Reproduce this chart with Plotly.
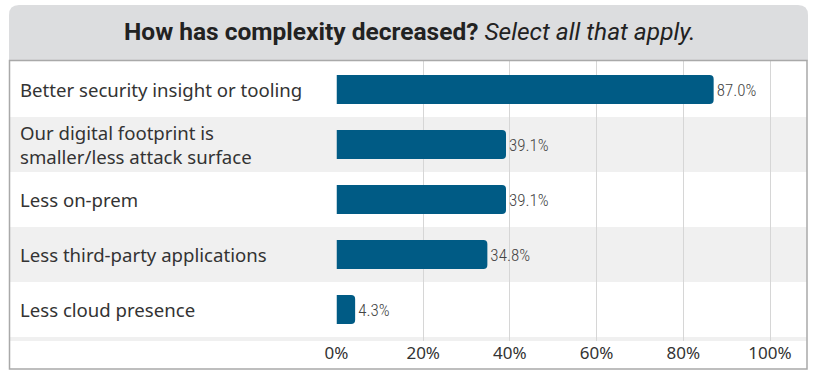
import plotly.graph_objects as go

# Survey answers (share of respondents, %)
categories = [
    "Better security insight or tooling",
    "Our digital footprint is<br>smaller/less attack surface",
    "Less on-prem",
    "Less third-party applications",
    "Less cloud presence",
]
values = [87.0, 39.1, 39.1, 34.8, 4.3]
tick_values = [0, 20, 40, 60, 80, 100]
tick_labels = ["0%", "20%", "40%", "60%", "80%", "100%"]

W, H = 814, 372


def fx(px):
    return px / W


def fy(py):
    return 1 - py / H


BAR = "#005b85"
BAND = "#f0f0f0"
TITLE_FONT = "Roboto, Noto Sans, sans-serif"
LABEL_FONT = "Noto Sans, Roboto, sans-serif"
VALUE_FONT = ("Liberation Sans Narrow, Roboto Condensed, Open Sans Condensed, "
              "DejaVu Sans Condensed, Roboto, sans-serif")

fig = go.Figure(
    go.Bar(
        x=values,
        y=categories,
        orientation="h",
        marker=dict(color=BAR, line=dict(width=0)),
        width=0.53,
        text=[f"{v:.1f}%" for v in values],
        textposition="outside",
        textfont=dict(family=VALUE_FONT, size=17, color="#444444", weight=300),
        constraintext="none",
        cliponaxis=False,
        hoverinfo="skip",
    )
)

shapes = []

# Grey header with rounded top corners
r = 10
x0, x1, y0, y1 = 9, 808, 5, 61
path = (
    f"M {fx(x0)},{fy(y1)} L {fx(x0)},{fy(y0 + r)} "
    f"Q {fx(x0)},{fy(y0)} {fx(x0 + r)},{fy(y0)} "
    f"L {fx(x1 - r)},{fy(y0)} Q {fx(x1)},{fy(y0)} {fx(x1)},{fy(y0 + r)} "
    f"L {fx(x1)},{fy(y1)} Z"
)
shapes.append(dict(type="path", xref="paper", yref="paper", path=path,
                   fillcolor="#dcdddf", line=dict(width=0), layer="below"))

# Alternating row bands across the whole panel
for i in range(len(categories)):
    if i % 2 == 1:
        shapes.append(dict(type="rect", xref="paper", yref="y",
                           x0=fx(9.5), x1=fx(807), y0=i - 0.5, y1=i + 0.5,
                           fillcolor=BAND, line=dict(width=0), layer="below"))
# thin strip closing the last row
shapes.append(dict(type="rect", xref="paper", yref="y",
                   x0=fx(9.5), x1=fx(807), y0=len(categories) - 0.5,
                   y1=len(categories) - 0.5 + 4 / 55,
                   fillcolor=BAND, line=dict(width=0), layer="below"))

# Panel border
shapes.append(dict(type="rect", xref="paper", yref="paper",
                   x0=fx(9.5), x1=fx(807), y0=fy(369), y1=fy(60.5),
                   fillcolor="rgba(0,0,0,0)",
                   line=dict(color="#a9a9a9", width=1.5), layer="above"))

annotations = [
    dict(
        text="<b>How has complexity decreased?</b> <i>Select all that apply.</i>",
        x=fx(409.5), y=fy(31), xref="paper", yref="paper",
        xanchor="center", yanchor="middle", showarrow=False,
        font=dict(family=TITLE_FONT, size=24.5, color="#222222"),
    )
]
for c in categories:
    annotations.append(dict(
        text=c, x=fx(17.5), y=c, xref="paper", yref="y",
        xanchor="left", yanchor="middle", align="left", showarrow=False,
        font=dict(family=LABEL_FONT, size=18.6, color="#333333"),
    ))

fig.update_layout(
    template="none",
    width=W, height=H,
    margin=dict(l=0, r=0, t=0, b=0, pad=0, autoexpand=False),
    paper_bgcolor="white",
    plot_bgcolor="rgba(0,0,0,0)",
    barcornerradius=4,
    showlegend=False,
    shapes=shapes,
    annotations=annotations,
    xaxis=dict(
        domain=[fx(336.5), fx(807)],
        range=[0, (807 - 336.5) / 4.335],
        tickvals=tick_values, ticktext=tick_labels,
        showgrid=True, gridcolor="#d6d6d6", gridwidth=1,
        zeroline=False, showline=False, ticks="", automargin=False,
        tickfont=dict(family=LABEL_FONT, size=17, color="#333333"),
        fixedrange=True,
    ),
    yaxis=dict(
        domain=[fy(341), fy(61)],
        categoryorder="array", categoryarray=categories,
        range=[len(categories) - 0.5 + 4 / 55, -0.5 - 1 / 55],
        showticklabels=False, showgrid=False, zeroline=False,
        showline=False, ticks="", automargin=False, fixedrange=True,
    ),
)

fig.write_html("out.html")
